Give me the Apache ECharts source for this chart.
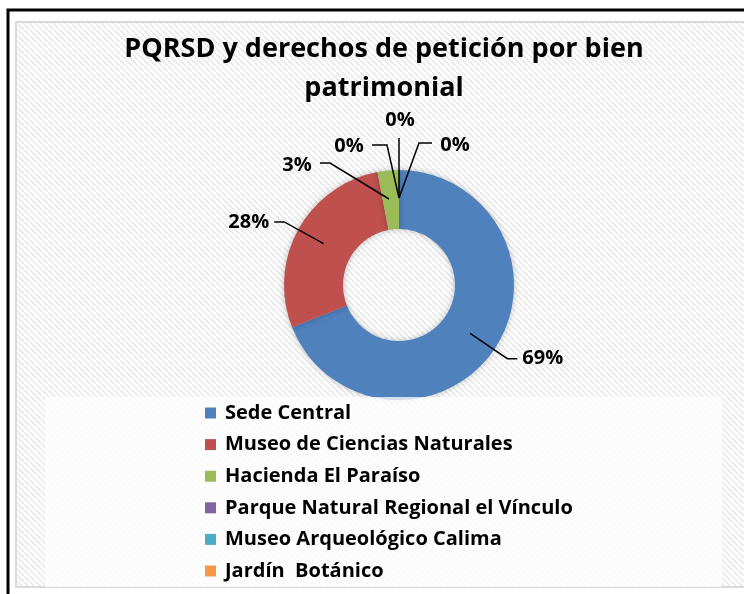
<!DOCTYPE html>
<html>
<head>
<meta charset="utf-8">
<script src="https://cdn.jsdelivr.net/npm/echarts@6/dist/echarts.min.js"></script>
<style>
  html, body { margin: 0; padding: 0; background: #fff; }
  #chart { width: 744px; height: 594px; }
</style>
</head>
<body>
<div id="chart"></div>
<script>
// datos (porcentajes)
var categorias = [
  "Sede Central",
  "Museo de Ciencias Naturales",
  "Hacienda El Paraíso",
  "Parque Natural Regional el Vínculo",
  "Museo Arqueológico Calima",
  "Jardín  Botánico"
];
var valores = [69, 28, 3, 0, 0, 0];
var colores = ["#4F81BD", "#C0504D", "#9BBB59", "#8064A2", "#4BACC6", "#F79646"];

// etiquetas pequeñas: posicion y guia relativas al centro del anillo
var etiquetasDesp = {
  2: { pos: [-102, -120], guia: [[-10, -86], [-69, -122], [-79, -122]] },
  3: { pos: [-50, -139], guia: [[0, -87], [-12, -140], [-27, -140]] },
  4: { pos: [1, -165], guia: [[0, -87], [0, -117], [0, -147]] },
  5: { pos: [56, -140], guia: [[0, -87], [20, -142], [33, -142]] }
};

// fondo con rayas diagonales
function rayas() {
  var c = document.createElement("canvas");
  c.width = 6;
  c.height = 6;
  var ctx = c.getContext("2d");
  ctx.fillStyle = "#ffffff";
  ctx.fillRect(0, 0, 6, 6);
  ctx.strokeStyle = "#e8e8e8";
  ctx.lineWidth = 1.6;
  for (var k = -6; k <= 12; k += 6) {
    ctx.beginPath();
    ctx.moveTo(k, 0);
    ctx.lineTo(k + 6, 6);
    ctx.stroke();
  }
  return c;
}

var chart = echarts.init(document.getElementById("chart"));
var fuente = "'Open Sans', sans-serif";
var centro = [399, 285];
var radioExt = 115;
var radioGuia = 86; // la guia arranca a mitad del anillo

var datos = categorias.map(function (n, i) {
  return { name: n, value: valores[i] };
});

chart.setOption({
  animation: false,
  color: colores,
  graphic: [
    {
      type: "rect",
      z: -10,
      shape: { x: 16, y: 22, width: 740, height: 565 },
      style: { fill: { image: rayas(), repeat: "repeat" }, stroke: "#d9d9d9", lineWidth: 2 }
    },
    {
      type: "polyline",
      z: -9,
      shape: { points: [[8, 600], [8, 10], [750, 10]] },
      style: { stroke: "#000", lineWidth: 3, fill: null }
    }
  ],
  title: {
    text: "PQRSD y derechos de petición por bien\npatrimonial",
    left: 379,
    textAlign: "center",
    top: 25,
    textStyle: {
      fontFamily: fuente,
      fontWeight: "bold",
      fontSize: 27,
      lineHeight: 39,
      color: "#000"
    }
  },
  legend: {
    orient: "vertical",
    left: 45,
    top: 397,
    z: 6,
    data: categorias,
    icon: "rect",
    itemWidth: 11,
    itemHeight: 11,
    itemGap: 11.6,
    backgroundColor: "rgba(255,255,255,0.75)",
    padding: [6, 149, 6, 160],
    textStyle: {
      fontFamily: fuente,
      fontWeight: "bold",
      fontSize: 20,
      lineHeight: 20,
      color: "#000",
      padding: [0, 0, 0, 4]
    }
  },
  series: [
    {
      // anillo visible
      type: "pie",
      z: 2,
      center: centro,
      radius: [56, radioExt],
      startAngle: 90,
      clockwise: true,
      itemStyle: {
        shadowBlur: 6,
        shadowColor: "rgba(0,0,0,0.25)"
      },
      label: { show: false },
      labelLine: { show: false },
      emphasis: { disabled: true },
      data: datos
    },
    {
      // mismo anillo transparente, solo para etiquetas y guias encima
      type: "pie",
      z: 3,
      silent: true,
      center: centro,
      radius: [56, radioExt],
      startAngle: 90,
      clockwise: true,
      avoidLabelOverlap: false,
      itemStyle: { color: "rgba(0,0,0,0)" },
      label: {
        show: true,
        position: "outside",
        formatter: function (p) {
          return Math.round(p.percent) + "%";
        },
        fontFamily: fuente,
        fontWeight: "bold",
        fontSize: 20,
        color: "#000"
      },
      labelLine: {
        show: true,
        length: 16,
        length2: 10,
        lineStyle: { color: "#000", width: 1.5 }
      },
      labelLayout: function (p) {
        var d = etiquetasDesp[p.dataIndex];
        if (!d) {
          // mover el arranque de la guia hacia dentro del anillo
          var pts = p.labelLinePoints;
          if (!pts) return {};
          var k = radioGuia / radioExt;
          var p0 = [
            centro[0] + (pts[0][0] - centro[0]) * k,
            centro[1] + (pts[0][1] - centro[1]) * k
          ];
          return { labelLinePoints: [p0, pts[1], pts[2]] };
        }
        return {
          x: centro[0] + d.pos[0],
          y: centro[1] + d.pos[1],
          align: "center",
          verticalAlign: "middle",
          labelLinePoints: d.guia.map(function (q) {
            return [centro[0] + q[0], centro[1] + q[1]];
          })
        };
      },
      emphasis: { disabled: true },
      data: datos
    }
  ]
});
</script>
</body>
</html>
